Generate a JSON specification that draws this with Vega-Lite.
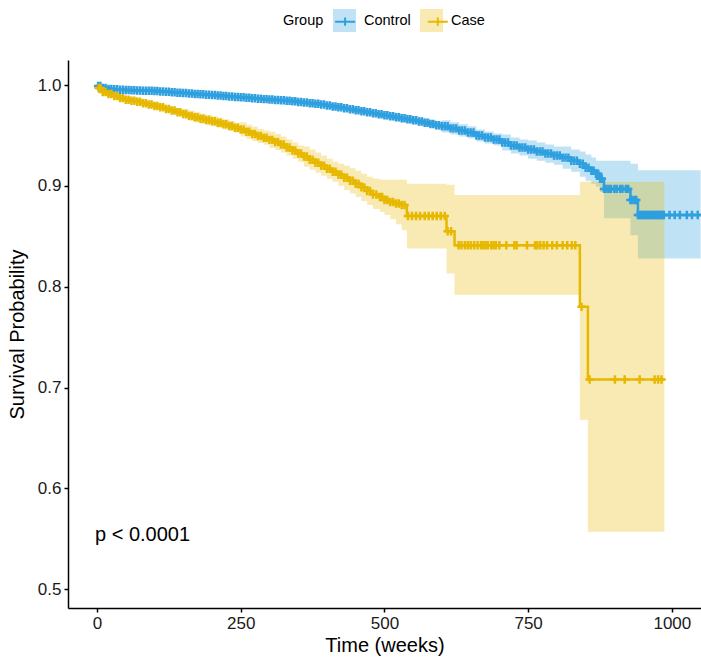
{
  "$schema": "https://vega.github.io/schema/vega-lite/v6.json",
  "width": 633,
  "height": 548,
  "autosize": {"type": "none"},
  "padding": {"left": 68, "top": 60, "right": 0, "bottom": 50},
  "config": {
    "font": "Liberation Sans",
    "view": {"stroke": null},
    "axis": {"domainColor": "black", "domainWidth": 1.5, "tickColor": "black", "tickWidth": 1.5, "tickSize": 4, "labelColor": "#1a1a1a", "labelFontSize": 17, "titleFontSize": 20, "titleFontWeight": "normal", "titleColor": "black", "grid": false, "labelFont": "Liberation Sans", "titleFont": "Liberation Sans"},
    "legend": {"labelFont": "Liberation Sans", "titleFont": "Liberation Sans", "labelFontSize": 14.5, "titleFontSize": 14.5, "titleFontWeight": "normal", "labelColor": "black", "titleColor": "black", "padding": 0}
  },
  "datasets": {
    "km": [
      {"g":"Control","t":0,"s":1,"lo":1,"hi":1},
      {"g":"Control","t":2,"s":0.999,"lo":0.9975,"hi":1.0},
      {"g":"Control","t":10,"s":0.997,"lo":0.9955,"hi":0.9985},
      {"g":"Control","t":20,"s":0.996,"lo":0.9945,"hi":0.9975},
      {"g":"Control","t":30,"s":0.9957,"lo":0.9942,"hi":0.9972},
      {"g":"Control","t":40,"s":0.9953,"lo":0.9938,"hi":0.9968},
      {"g":"Control","t":50,"s":0.995,"lo":0.9935,"hi":0.9965},
      {"g":"Control","t":60,"s":0.9948,"lo":0.9933,"hi":0.9963},
      {"g":"Control","t":70,"s":0.9946,"lo":0.9931,"hi":0.9961},
      {"g":"Control","t":80,"s":0.9944,"lo":0.9929,"hi":0.9959},
      {"g":"Control","t":90,"s":0.9942,"lo":0.9927,"hi":0.9957},
      {"g":"Control","t":100,"s":0.994,"lo":0.992,"hi":0.996},
      {"g":"Control","t":110,"s":0.9936,"lo":0.9916,"hi":0.9956},
      {"g":"Control","t":120,"s":0.9932,"lo":0.9912,"hi":0.9952},
      {"g":"Control","t":130,"s":0.9928,"lo":0.9908,"hi":0.9948},
      {"g":"Control","t":140,"s":0.9924,"lo":0.9904,"hi":0.9944},
      {"g":"Control","t":150,"s":0.992,"lo":0.99,"hi":0.994},
      {"g":"Control","t":160,"s":0.9916,"lo":0.9896,"hi":0.9936},
      {"g":"Control","t":170,"s":0.9912,"lo":0.9892,"hi":0.9932},
      {"g":"Control","t":180,"s":0.9908,"lo":0.9888,"hi":0.9928},
      {"g":"Control","t":190,"s":0.9904,"lo":0.9884,"hi":0.9924},
      {"g":"Control","t":200,"s":0.99,"lo":0.988,"hi":0.992},
      {"g":"Control","t":210,"s":0.9896,"lo":0.9876,"hi":0.9916},
      {"g":"Control","t":220,"s":0.9891,"lo":0.9871,"hi":0.9911},
      {"g":"Control","t":230,"s":0.9887,"lo":0.9867,"hi":0.9907},
      {"g":"Control","t":240,"s":0.9882,"lo":0.9862,"hi":0.9902},
      {"g":"Control","t":250,"s":0.9878,"lo":0.9858,"hi":0.9898},
      {"g":"Control","t":260,"s":0.9873,"lo":0.9853,"hi":0.9893},
      {"g":"Control","t":270,"s":0.9869,"lo":0.9849,"hi":0.9889},
      {"g":"Control","t":280,"s":0.9864,"lo":0.9844,"hi":0.9884},
      {"g":"Control","t":290,"s":0.986,"lo":0.984,"hi":0.988},
      {"g":"Control","t":300,"s":0.9856,"lo":0.9831,"hi":0.9881},
      {"g":"Control","t":310,"s":0.9852,"lo":0.9827,"hi":0.9877},
      {"g":"Control","t":320,"s":0.9848,"lo":0.9823,"hi":0.9873},
      {"g":"Control","t":330,"s":0.9844,"lo":0.9819,"hi":0.9869},
      {"g":"Control","t":340,"s":0.9838,"lo":0.9813,"hi":0.9863},
      {"g":"Control","t":350,"s":0.9832,"lo":0.9807,"hi":0.9857},
      {"g":"Control","t":360,"s":0.9826,"lo":0.9801,"hi":0.9851},
      {"g":"Control","t":370,"s":0.982,"lo":0.9795,"hi":0.9845},
      {"g":"Control","t":380,"s":0.9814,"lo":0.9789,"hi":0.9839},
      {"g":"Control","t":390,"s":0.9806,"lo":0.9781,"hi":0.9831},
      {"g":"Control","t":400,"s":0.9797,"lo":0.9767,"hi":0.9827},
      {"g":"Control","t":410,"s":0.9788,"lo":0.9758,"hi":0.9818},
      {"g":"Control","t":420,"s":0.978,"lo":0.975,"hi":0.981},
      {"g":"Control","t":430,"s":0.977,"lo":0.974,"hi":0.98},
      {"g":"Control","t":440,"s":0.976,"lo":0.973,"hi":0.979},
      {"g":"Control","t":450,"s":0.975,"lo":0.972,"hi":0.978},
      {"g":"Control","t":460,"s":0.974,"lo":0.971,"hi":0.977},
      {"g":"Control","t":470,"s":0.973,"lo":0.97,"hi":0.976},
      {"g":"Control","t":480,"s":0.972,"lo":0.969,"hi":0.975},
      {"g":"Control","t":490,"s":0.971,"lo":0.968,"hi":0.974},
      {"g":"Control","t":500,"s":0.97,"lo":0.966,"hi":0.974},
      {"g":"Control","t":510,"s":0.969,"lo":0.965,"hi":0.973},
      {"g":"Control","t":520,"s":0.968,"lo":0.964,"hi":0.972},
      {"g":"Control","t":530,"s":0.967,"lo":0.963,"hi":0.971},
      {"g":"Control","t":540,"s":0.966,"lo":0.962,"hi":0.97},
      {"g":"Control","t":550,"s":0.965,"lo":0.961,"hi":0.969},
      {"g":"Control","t":560,"s":0.9638,"lo":0.9598,"hi":0.9678},
      {"g":"Control","t":570,"s":0.9626,"lo":0.9586,"hi":0.9666},
      {"g":"Control","t":580,"s":0.9614,"lo":0.9574,"hi":0.9654},
      {"g":"Control","t":590,"s":0.96,"lo":0.956,"hi":0.964},
      {"g":"Control","t":600,"s":0.959,"lo":0.953,"hi":0.965},
      {"g":"Control","t":615,"s":0.957,"lo":0.951,"hi":0.963},
      {"g":"Control","t":630,"s":0.955,"lo":0.949,"hi":0.961},
      {"g":"Control","t":645,"s":0.953,"lo":0.947,"hi":0.959},
      {"g":"Control","t":660,"s":0.95,"lo":0.944,"hi":0.956},
      {"g":"Control","t":675,"s":0.948,"lo":0.942,"hi":0.954},
      {"g":"Control","t":690,"s":0.946,"lo":0.94,"hi":0.952},
      {"g":"Control","t":705,"s":0.943,"lo":0.935,"hi":0.951},
      {"g":"Control","t":720,"s":0.94,"lo":0.932,"hi":0.948},
      {"g":"Control","t":735,"s":0.938,"lo":0.93,"hi":0.946},
      {"g":"Control","t":750,"s":0.936,"lo":0.927,"hi":0.945},
      {"g":"Control","t":765,"s":0.934,"lo":0.925,"hi":0.943},
      {"g":"Control","t":780,"s":0.932,"lo":0.923,"hi":0.941},
      {"g":"Control","t":795,"s":0.93,"lo":0.921,"hi":0.939},
      {"g":"Control","t":810,"s":0.928,"lo":0.917,"hi":0.939},
      {"g":"Control","t":825,"s":0.925,"lo":0.914,"hi":0.936},
      {"g":"Control","t":840,"s":0.922,"lo":0.909,"hi":0.934},
      {"g":"Control","t":850,"s":0.918,"lo":0.905,"hi":0.931},
      {"g":"Control","t":860,"s":0.915,"lo":0.902,"hi":0.928},
      {"g":"Control","t":868,"s":0.912,"lo":0.899,"hi":0.925},
      {"g":"Control","t":875,"s":0.907,"lo":0.894,"hi":0.925},
      {"g":"Control","t":882,"s":0.897,"lo":0.868,"hi":0.925},
      {"g":"Control","t":928,"s":0.886,"lo":0.851,"hi":0.922},
      {"g":"Control","t":941,"s":0.871,"lo":0.828,"hi":0.9155},
      {"g":"Control","t":1050,"s":0.871,"lo":0.828,"hi":0.9155},
      {"g":"Case","t":0,"s":1,"lo":1,"hi":1},
      {"g":"Case","t":3,"s":0.997,"lo":0.994,"hi":1.0},
      {"g":"Case","t":10,"s":0.993,"lo":0.99,"hi":0.996},
      {"g":"Case","t":20,"s":0.991,"lo":0.988,"hi":0.994},
      {"g":"Case","t":30,"s":0.989,"lo":0.986,"hi":0.992},
      {"g":"Case","t":40,"s":0.987,"lo":0.984,"hi":0.99},
      {"g":"Case","t":50,"s":0.9855,"lo":0.9825,"hi":0.9885},
      {"g":"Case","t":60,"s":0.9845,"lo":0.9815,"hi":0.9875},
      {"g":"Case","t":70,"s":0.9833,"lo":0.9803,"hi":0.9863},
      {"g":"Case","t":80,"s":0.982,"lo":0.979,"hi":0.985},
      {"g":"Case","t":90,"s":0.9807,"lo":0.9777,"hi":0.9837},
      {"g":"Case","t":100,"s":0.9793,"lo":0.9763,"hi":0.9823},
      {"g":"Case","t":110,"s":0.978,"lo":0.975,"hi":0.981},
      {"g":"Case","t":120,"s":0.9763,"lo":0.9733,"hi":0.9793},
      {"g":"Case","t":130,"s":0.9747,"lo":0.9717,"hi":0.9777},
      {"g":"Case","t":140,"s":0.973,"lo":0.97,"hi":0.976},
      {"g":"Case","t":150,"s":0.9712,"lo":0.9662,"hi":0.9762},
      {"g":"Case","t":160,"s":0.9694,"lo":0.9644,"hi":0.9744},
      {"g":"Case","t":170,"s":0.968,"lo":0.963,"hi":0.973},
      {"g":"Case","t":180,"s":0.9665,"lo":0.9615,"hi":0.9715},
      {"g":"Case","t":190,"s":0.9652,"lo":0.9602,"hi":0.9702},
      {"g":"Case","t":200,"s":0.964,"lo":0.959,"hi":0.969},
      {"g":"Case","t":210,"s":0.9625,"lo":0.9575,"hi":0.9675},
      {"g":"Case","t":220,"s":0.961,"lo":0.956,"hi":0.966},
      {"g":"Case","t":230,"s":0.9594,"lo":0.9544,"hi":0.9644},
      {"g":"Case","t":240,"s":0.9577,"lo":0.9527,"hi":0.9627},
      {"g":"Case","t":250,"s":0.956,"lo":0.949,"hi":0.963},
      {"g":"Case","t":260,"s":0.9537,"lo":0.9467,"hi":0.9607},
      {"g":"Case","t":270,"s":0.9515,"lo":0.9445,"hi":0.9585},
      {"g":"Case","t":280,"s":0.9495,"lo":0.9425,"hi":0.9565},
      {"g":"Case","t":290,"s":0.9478,"lo":0.9408,"hi":0.9548},
      {"g":"Case","t":300,"s":0.9456,"lo":0.9376,"hi":0.9536},
      {"g":"Case","t":310,"s":0.9435,"lo":0.9355,"hi":0.9515},
      {"g":"Case","t":320,"s":0.941,"lo":0.933,"hi":0.949},
      {"g":"Case","t":330,"s":0.938,"lo":0.93,"hi":0.946},
      {"g":"Case","t":340,"s":0.935,"lo":0.927,"hi":0.943},
      {"g":"Case","t":350,"s":0.932,"lo":0.924,"hi":0.94},
      {"g":"Case","t":360,"s":0.929,"lo":0.919,"hi":0.939},
      {"g":"Case","t":370,"s":0.926,"lo":0.916,"hi":0.936},
      {"g":"Case","t":380,"s":0.923,"lo":0.913,"hi":0.933},
      {"g":"Case","t":390,"s":0.92,"lo":0.91,"hi":0.93},
      {"g":"Case","t":400,"s":0.917,"lo":0.907,"hi":0.927},
      {"g":"Case","t":410,"s":0.914,"lo":0.904,"hi":0.924},
      {"g":"Case","t":420,"s":0.911,"lo":0.9,"hi":0.922},
      {"g":"Case","t":430,"s":0.908,"lo":0.896,"hi":0.92},
      {"g":"Case","t":440,"s":0.905,"lo":0.8925,"hi":0.9175},
      {"g":"Case","t":450,"s":0.902,"lo":0.889,"hi":0.915},
      {"g":"Case","t":460,"s":0.8985,"lo":0.885,"hi":0.912},
      {"g":"Case","t":470,"s":0.895,"lo":0.881,"hi":0.909},
      {"g":"Case","t":480,"s":0.8915,"lo":0.877,"hi":0.907},
      {"g":"Case","t":492,"s":0.889,"lo":0.874,"hi":0.906},
      {"g":"Case","t":500,"s":0.886,"lo":0.871,"hi":0.906},
      {"g":"Case","t":510,"s":0.884,"lo":0.867,"hi":0.906},
      {"g":"Case","t":520,"s":0.8825,"lo":0.862,"hi":0.906},
      {"g":"Case","t":530,"s":0.881,"lo":0.856,"hi":0.906},
      {"g":"Case","t":539,"s":0.87,"lo":0.838,"hi":0.902},
      {"g":"Case","t":608,"s":0.855,"lo":0.813,"hi":0.901},
      {"g":"Case","t":622,"s":0.841,"lo":0.792,"hi":0.891},
      {"g":"Case","t":840,"s":0.78,"lo":0.668,"hi":0.904},
      {"g":"Case","t":854,"s":0.708,"lo":0.557,"hi":0.904},
      {"g":"Case","t":987,"s":0.708,"lo":0.557,"hi":0.904}
    ],
    "cens": [
      {"g":"Control","t":2,"s":0.999},{"g":"Control","t":6,"s":0.999},{"g":"Control","t":10,"s":0.997},{"g":"Control","t":15,"s":0.997},
      {"g":"Control","t":20,"s":0.996},{"g":"Control","t":25,"s":0.996},{"g":"Control","t":30,"s":0.9957},{"g":"Control","t":35,"s":0.9957},
      {"g":"Control","t":40,"s":0.9953},{"g":"Control","t":45,"s":0.9953},{"g":"Control","t":50,"s":0.995},{"g":"Control","t":55,"s":0.995},
      {"g":"Control","t":60,"s":0.9948},{"g":"Control","t":65,"s":0.9948},{"g":"Control","t":70,"s":0.9946},{"g":"Control","t":75,"s":0.9946},
      {"g":"Control","t":80,"s":0.9944},{"g":"Control","t":85,"s":0.9944},{"g":"Control","t":90,"s":0.9942},{"g":"Control","t":95,"s":0.9942},
      {"g":"Control","t":100,"s":0.994},{"g":"Control","t":105,"s":0.994},{"g":"Control","t":110,"s":0.9936},{"g":"Control","t":115,"s":0.9936},
      {"g":"Control","t":120,"s":0.9932},{"g":"Control","t":125,"s":0.9932},{"g":"Control","t":130,"s":0.9928},{"g":"Control","t":135,"s":0.9928},
      {"g":"Control","t":140,"s":0.9924},{"g":"Control","t":145,"s":0.9924},{"g":"Control","t":150,"s":0.992},{"g":"Control","t":155,"s":0.992},
      {"g":"Control","t":160,"s":0.9916},{"g":"Control","t":165,"s":0.9916},{"g":"Control","t":170,"s":0.9912},{"g":"Control","t":175,"s":0.9912},
      {"g":"Control","t":180,"s":0.9908},{"g":"Control","t":185,"s":0.9908},{"g":"Control","t":190,"s":0.9904},{"g":"Control","t":195,"s":0.9904},
      {"g":"Control","t":200,"s":0.99},{"g":"Control","t":205,"s":0.99},{"g":"Control","t":210,"s":0.9896},{"g":"Control","t":215,"s":0.9896},
      {"g":"Control","t":220,"s":0.9891},{"g":"Control","t":225,"s":0.9891},{"g":"Control","t":230,"s":0.9887},{"g":"Control","t":235,"s":0.9887},
      {"g":"Control","t":240,"s":0.9882},{"g":"Control","t":245,"s":0.9882},{"g":"Control","t":250,"s":0.9878},{"g":"Control","t":255,"s":0.9878},
      {"g":"Control","t":260,"s":0.9873},{"g":"Control","t":265,"s":0.9873},{"g":"Control","t":270,"s":0.9869},{"g":"Control","t":275,"s":0.9869},
      {"g":"Control","t":280,"s":0.9864},{"g":"Control","t":285,"s":0.9864},{"g":"Control","t":290,"s":0.986},{"g":"Control","t":295,"s":0.986},
      {"g":"Control","t":300,"s":0.9856},{"g":"Control","t":305,"s":0.9856},{"g":"Control","t":310,"s":0.9852},{"g":"Control","t":315,"s":0.9852},
      {"g":"Control","t":320,"s":0.9848},{"g":"Control","t":325,"s":0.9848},{"g":"Control","t":330,"s":0.9844},{"g":"Control","t":335,"s":0.9844},
      {"g":"Control","t":340,"s":0.9838},{"g":"Control","t":345,"s":0.9838},{"g":"Control","t":350,"s":0.9832},{"g":"Control","t":355,"s":0.9832},
      {"g":"Control","t":360,"s":0.9826},{"g":"Control","t":365,"s":0.9826},{"g":"Control","t":370,"s":0.982},{"g":"Control","t":375,"s":0.982},
      {"g":"Control","t":380,"s":0.9814},{"g":"Control","t":385,"s":0.9814},{"g":"Control","t":390,"s":0.9806},{"g":"Control","t":395,"s":0.9806},
      {"g":"Control","t":400,"s":0.9797},{"g":"Control","t":405,"s":0.9797},{"g":"Control","t":410,"s":0.9788},{"g":"Control","t":415,"s":0.9788},
      {"g":"Control","t":420,"s":0.978},{"g":"Control","t":425,"s":0.978},{"g":"Control","t":430,"s":0.977},{"g":"Control","t":435,"s":0.977},
      {"g":"Control","t":440,"s":0.976},{"g":"Control","t":445,"s":0.976},{"g":"Control","t":450,"s":0.975},{"g":"Control","t":455,"s":0.975},
      {"g":"Control","t":460,"s":0.974},{"g":"Control","t":465,"s":0.974},{"g":"Control","t":470,"s":0.973},{"g":"Control","t":475,"s":0.973},
      {"g":"Control","t":480,"s":0.972},{"g":"Control","t":485,"s":0.972},{"g":"Control","t":490,"s":0.971},{"g":"Control","t":495,"s":0.971},
      {"g":"Control","t":500,"s":0.97},{"g":"Control","t":505,"s":0.97},{"g":"Control","t":510,"s":0.969},{"g":"Control","t":515,"s":0.969},
      {"g":"Control","t":520,"s":0.968},{"g":"Control","t":525,"s":0.968},{"g":"Control","t":530,"s":0.967},{"g":"Control","t":535,"s":0.967},
      {"g":"Control","t":540,"s":0.966},{"g":"Control","t":545,"s":0.966},{"g":"Control","t":550,"s":0.965},{"g":"Control","t":555,"s":0.965},
      {"g":"Control","t":560,"s":0.9638},{"g":"Control","t":565,"s":0.9638},{"g":"Control","t":570,"s":0.9626},{"g":"Control","t":575,"s":0.9626},
      {"g":"Control","t":580,"s":0.9614},{"g":"Control","t":585,"s":0.9614},{"g":"Control","t":590,"s":0.96},{"g":"Control","t":595,"s":0.96},
      {"g":"Control","t":600,"s":0.959},{"g":"Control","t":605,"s":0.959},{"g":"Control","t":610,"s":0.959},
      {"g":"Control","t":615,"s":0.957},{"g":"Control","t":620,"s":0.957},{"g":"Control","t":625,"s":0.957},
      {"g":"Control","t":630,"s":0.955},{"g":"Control","t":635,"s":0.955},{"g":"Control","t":640,"s":0.955},
      {"g":"Control","t":645,"s":0.953},{"g":"Control","t":650,"s":0.953},{"g":"Control","t":655,"s":0.953},
      {"g":"Control","t":660,"s":0.95},{"g":"Control","t":665,"s":0.95},{"g":"Control","t":670,"s":0.95},
      {"g":"Control","t":675,"s":0.948},{"g":"Control","t":680,"s":0.948},{"g":"Control","t":685,"s":0.948},
      {"g":"Control","t":690,"s":0.946},{"g":"Control","t":695,"s":0.946},{"g":"Control","t":700,"s":0.946},
      {"g":"Control","t":705,"s":0.943},{"g":"Control","t":710,"s":0.943},{"g":"Control","t":715,"s":0.943},
      {"g":"Control","t":720,"s":0.94},{"g":"Control","t":725,"s":0.94},{"g":"Control","t":730,"s":0.94},
      {"g":"Control","t":735,"s":0.938},{"g":"Control","t":740,"s":0.938},{"g":"Control","t":745,"s":0.938},
      {"g":"Control","t":750,"s":0.936},{"g":"Control","t":755,"s":0.936},{"g":"Control","t":760,"s":0.936},
      {"g":"Control","t":765,"s":0.934},{"g":"Control","t":770,"s":0.934},{"g":"Control","t":775,"s":0.934},
      {"g":"Control","t":780,"s":0.932},{"g":"Control","t":785,"s":0.932},{"g":"Control","t":790,"s":0.932},
      {"g":"Control","t":795,"s":0.93},{"g":"Control","t":800,"s":0.93},{"g":"Control","t":805,"s":0.93},
      {"g":"Control","t":810,"s":0.928},{"g":"Control","t":815,"s":0.928},{"g":"Control","t":820,"s":0.928},
      {"g":"Control","t":825,"s":0.925},{"g":"Control","t":830,"s":0.925},{"g":"Control","t":835,"s":0.925},
      {"g":"Control","t":840,"s":0.922},{"g":"Control","t":845,"s":0.922},{"g":"Control","t":850,"s":0.918},{"g":"Control","t":855,"s":0.918},
      {"g":"Control","t":860,"s":0.915},{"g":"Control","t":864,"s":0.915},{"g":"Control","t":868,"s":0.912},{"g":"Control","t":872,"s":0.912},
      {"g":"Control","t":875,"s":0.907},{"g":"Control","t":878,"s":0.907},
      {"g":"Control","t":882,"s":0.897},{"g":"Control","t":886,"s":0.897},{"g":"Control","t":890,"s":0.897},{"g":"Control","t":894,"s":0.897},
      {"g":"Control","t":900,"s":0.897},{"g":"Control","t":904,"s":0.897},{"g":"Control","t":910,"s":0.897},{"g":"Control","t":914,"s":0.897},
      {"g":"Control","t":920,"s":0.897},{"g":"Control","t":924,"s":0.897},
      {"g":"Control","t":928,"s":0.886},{"g":"Control","t":931,"s":0.886},{"g":"Control","t":935,"s":0.886},{"g":"Control","t":938,"s":0.886},
      {"g":"Control","t":941,"s":0.871},{"g":"Control","t":943,"s":0.871},{"g":"Control","t":946,"s":0.871},{"g":"Control","t":949,"s":0.871},
      {"g":"Control","t":951,"s":0.871},{"g":"Control","t":954,"s":0.871},{"g":"Control","t":956,"s":0.871},{"g":"Control","t":959,"s":0.871},
      {"g":"Control","t":961,"s":0.871},{"g":"Control","t":964,"s":0.871},{"g":"Control","t":966,"s":0.871},{"g":"Control","t":969,"s":0.871},
      {"g":"Control","t":971,"s":0.871},{"g":"Control","t":974,"s":0.871},{"g":"Control","t":976,"s":0.871},{"g":"Control","t":979,"s":0.871},
      {"g":"Control","t":981,"s":0.871},{"g":"Control","t":984,"s":0.871},{"g":"Control","t":986,"s":0.871},{"g":"Control","t":996,"s":0.871},
      {"g":"Control","t":1005,"s":0.871},{"g":"Control","t":1014,"s":0.871},{"g":"Control","t":1026,"s":0.871},{"g":"Control","t":1035,"s":0.871},
      {"g":"Control","t":1045,"s":0.871},
      {"g":"Case","t":3,"s":0.997},{"g":"Case","t":6,"s":0.997},{"g":"Case","t":10,"s":0.993},{"g":"Case","t":15,"s":0.993},
      {"g":"Case","t":20,"s":0.991},{"g":"Case","t":25,"s":0.991},{"g":"Case","t":30,"s":0.989},{"g":"Case","t":35,"s":0.989},
      {"g":"Case","t":40,"s":0.987},{"g":"Case","t":45,"s":0.987},{"g":"Case","t":50,"s":0.9855},{"g":"Case","t":55,"s":0.9855},
      {"g":"Case","t":60,"s":0.9845},{"g":"Case","t":65,"s":0.9845},{"g":"Case","t":70,"s":0.9833},{"g":"Case","t":75,"s":0.9833},
      {"g":"Case","t":80,"s":0.982},{"g":"Case","t":85,"s":0.982},{"g":"Case","t":90,"s":0.9807},{"g":"Case","t":95,"s":0.9807},
      {"g":"Case","t":100,"s":0.9793},{"g":"Case","t":105,"s":0.9793},{"g":"Case","t":110,"s":0.978},{"g":"Case","t":115,"s":0.978},
      {"g":"Case","t":120,"s":0.9763},{"g":"Case","t":125,"s":0.9763},{"g":"Case","t":130,"s":0.9747},{"g":"Case","t":135,"s":0.9747},
      {"g":"Case","t":140,"s":0.973},{"g":"Case","t":145,"s":0.973},{"g":"Case","t":150,"s":0.9712},{"g":"Case","t":155,"s":0.9712},
      {"g":"Case","t":160,"s":0.9694},{"g":"Case","t":165,"s":0.9694},{"g":"Case","t":170,"s":0.968},{"g":"Case","t":175,"s":0.968},
      {"g":"Case","t":180,"s":0.9665},{"g":"Case","t":185,"s":0.9665},{"g":"Case","t":190,"s":0.9652},{"g":"Case","t":195,"s":0.9652},
      {"g":"Case","t":200,"s":0.964},{"g":"Case","t":205,"s":0.964},{"g":"Case","t":210,"s":0.9625},{"g":"Case","t":215,"s":0.9625},
      {"g":"Case","t":220,"s":0.961},{"g":"Case","t":225,"s":0.961},{"g":"Case","t":230,"s":0.9594},{"g":"Case","t":235,"s":0.9594},
      {"g":"Case","t":240,"s":0.9577},{"g":"Case","t":245,"s":0.9577},{"g":"Case","t":250,"s":0.956},{"g":"Case","t":255,"s":0.956},
      {"g":"Case","t":260,"s":0.9537},{"g":"Case","t":265,"s":0.9537},{"g":"Case","t":270,"s":0.9515},{"g":"Case","t":275,"s":0.9515},
      {"g":"Case","t":280,"s":0.9495},{"g":"Case","t":285,"s":0.9495},{"g":"Case","t":290,"s":0.9478},{"g":"Case","t":295,"s":0.9478},
      {"g":"Case","t":300,"s":0.9456},{"g":"Case","t":305,"s":0.9456},{"g":"Case","t":310,"s":0.9435},{"g":"Case","t":315,"s":0.9435},
      {"g":"Case","t":320,"s":0.941},{"g":"Case","t":325,"s":0.941},{"g":"Case","t":330,"s":0.938},{"g":"Case","t":335,"s":0.938},
      {"g":"Case","t":340,"s":0.935},{"g":"Case","t":345,"s":0.935},{"g":"Case","t":350,"s":0.932},{"g":"Case","t":355,"s":0.932},
      {"g":"Case","t":360,"s":0.929},{"g":"Case","t":365,"s":0.929},{"g":"Case","t":370,"s":0.926},{"g":"Case","t":375,"s":0.926},
      {"g":"Case","t":380,"s":0.923},{"g":"Case","t":385,"s":0.923},{"g":"Case","t":390,"s":0.92},{"g":"Case","t":395,"s":0.92},
      {"g":"Case","t":400,"s":0.917},{"g":"Case","t":405,"s":0.917},{"g":"Case","t":410,"s":0.914},{"g":"Case","t":415,"s":0.914},
      {"g":"Case","t":420,"s":0.911},{"g":"Case","t":425,"s":0.911},{"g":"Case","t":430,"s":0.908},{"g":"Case","t":435,"s":0.908},
      {"g":"Case","t":440,"s":0.905},{"g":"Case","t":445,"s":0.905},{"g":"Case","t":450,"s":0.902},{"g":"Case","t":455,"s":0.902},
      {"g":"Case","t":460,"s":0.8985},{"g":"Case","t":465,"s":0.8985},{"g":"Case","t":470,"s":0.895},{"g":"Case","t":475,"s":0.895},
      {"g":"Case","t":480,"s":0.8915},{"g":"Case","t":486,"s":0.8915},{"g":"Case","t":492,"s":0.889},{"g":"Case","t":496,"s":0.889},
      {"g":"Case","t":500,"s":0.886},{"g":"Case","t":505,"s":0.886},{"g":"Case","t":510,"s":0.884},{"g":"Case","t":515,"s":0.884},
      {"g":"Case","t":520,"s":0.8825},{"g":"Case","t":525,"s":0.8825},{"g":"Case","t":530,"s":0.881},{"g":"Case","t":535,"s":0.881},
      {"g":"Case","t":541,"s":0.87},{"g":"Case","t":548,"s":0.87},{"g":"Case","t":555,"s":0.87},{"g":"Case","t":562,"s":0.87},
      {"g":"Case","t":570,"s":0.87},{"g":"Case","t":577,"s":0.87},{"g":"Case","t":584,"s":0.87},{"g":"Case","t":591,"s":0.87},
      {"g":"Case","t":598,"s":0.87},{"g":"Case","t":605,"s":0.87},
      {"g":"Case","t":610,"s":0.855},{"g":"Case","t":616,"s":0.855},
      {"g":"Case","t":629,"s":0.841},{"g":"Case","t":634,"s":0.841},{"g":"Case","t":640,"s":0.841},{"g":"Case","t":645,"s":0.841},
      {"g":"Case","t":650,"s":0.841},{"g":"Case","t":656,"s":0.841},{"g":"Case","t":662,"s":0.841},{"g":"Case","t":668,"s":0.841},
      {"g":"Case","t":672,"s":0.841},{"g":"Case","t":676,"s":0.841},{"g":"Case","t":680,"s":0.841},{"g":"Case","t":686,"s":0.841},
      {"g":"Case","t":690,"s":0.841},{"g":"Case","t":694,"s":0.841},{"g":"Case","t":700,"s":0.841},{"g":"Case","t":712,"s":0.841},
      {"g":"Case","t":726,"s":0.841},{"g":"Case","t":730,"s":0.841},{"g":"Case","t":748,"s":0.841},{"g":"Case","t":762,"s":0.841},
      {"g":"Case","t":766,"s":0.841},{"g":"Case","t":771,"s":0.841},{"g":"Case","t":777,"s":0.841},{"g":"Case","t":783,"s":0.841},
      {"g":"Case","t":792,"s":0.841},{"g":"Case","t":800,"s":0.841},{"g":"Case","t":810,"s":0.841},{"g":"Case","t":818,"s":0.841},
      {"g":"Case","t":826,"s":0.841},{"g":"Case","t":832,"s":0.841},
      {"g":"Case","t":843,"s":0.78},
      {"g":"Case","t":857,"s":0.708},{"g":"Case","t":901,"s":0.708},{"g":"Case","t":918,"s":0.708},{"g":"Case","t":944,"s":0.708},
      {"g":"Case","t":970,"s":0.708},{"g":"Case","t":976,"s":0.708},{"g":"Case","t":982,"s":0.708}
    ],
    "note": [{"t": 0, "s": 0.5536, "label": "p < 0.0001"}]
  },
  "layer": [
    {
      "data": {"name": "km"},
      "mark": {"type": "area", "interpolate": "step-after", "opacity": 0.3, "clip": true},
      "encoding": {
        "x": {"field": "t", "type": "quantitative", "scale": {"domain": [-50.4, 1050.7], "nice": false, "zero": false},
              "axis": {"values": [0, 250, 500, 750, 1000], "format": "d", "title": "Time (weeks)", "labelPadding": 3, "titlePadding": 4}},
        "y": {"field": "lo", "type": "quantitative", "scale": {"domain": [0.4814, 1.0248], "nice": false, "zero": false},
              "axis": {"values": [0.5, 0.6, 0.7, 0.8, 0.9, 1.0], "format": ".1f", "title": "Survival Probability", "labelPadding": 3, "titlePadding": 10}},
        "y2": {"field": "hi"},
        "fill": {"field": "g", "type": "nominal", "sort": ["Control", "Case"],
                 "scale": {"range": ["#2E9FDF", "#E7B800"]},
                 "legend": {"title": "Group", "orient": "none", "legendX": 215, "legendY": -51, "direction": "horizontal", "titleOrient": "left", "titlePadding": 9, "labelOffset": 8, "columnPadding": 9, "symbolType": "square", "symbolSize": 529, "symbolOpacity": 0.3, "symbolStrokeWidth": 0}}
      }
    },
    {
      "data": {"name": "km"},
      "mark": {"type": "line", "interpolate": "step-after", "strokeWidth": 2.5, "clip": true},
      "encoding": {
        "x": {"field": "t", "type": "quantitative"},
        "y": {"field": "s", "type": "quantitative"},
        "stroke": {"field": "g", "type": "nominal",
                   "scale": {"domain": ["Control", "Case"], "range": ["#2E9FDF", "#E7B800"]},
                   "legend": {"title": null, "orient": "none", "legendX": 264.6, "legendY": -51, "direction": "horizontal", "labelExpr": "''", "labelOffset": 0, "columnPadding": 63.7, "symbolType": "M-0.87,0H0.87M0,-0.36V0.36", "symbolSize": 529, "symbolStrokeWidth": 2, "symbolFillColor": "transparent"}}
      }
    },
    {
      "data": {"name": "cens"},
      "mark": {"type": "point", "shape": "M-1,0H1M0,-1V1", "filled": false, "size": 72, "strokeWidth": 2.5, "opacity": 1, "clip": true},
      "encoding": {
        "x": {"field": "t", "type": "quantitative"},
        "y": {"field": "s", "type": "quantitative"},
        "stroke": {"field": "g", "type": "nominal",
                   "scale": {"domain": ["Control", "Case"], "range": ["#2E9FDF", "#E7B800"]},
                   "legend": {"title": null, "orient": "none", "legendX": 264.6, "legendY": -51, "direction": "horizontal", "labelExpr": "''", "labelOffset": 0, "columnPadding": 63.7, "symbolType": "M-0.87,0H0.87M0,-0.36V0.36", "symbolSize": 529, "symbolStrokeWidth": 2, "symbolFillColor": "transparent"}}
      }
    },
    {
      "data": {"name": "note"},
      "mark": {"type": "text", "align": "left", "baseline": "middle", "fontSize": 20, "dx": -2, "color": "black", "font": "Liberation Sans"},
      "encoding": {
        "x": {"field": "t", "type": "quantitative"},
        "y": {"field": "s", "type": "quantitative"},
        "text": {"field": "label"}
      }
    }
  ]
}
